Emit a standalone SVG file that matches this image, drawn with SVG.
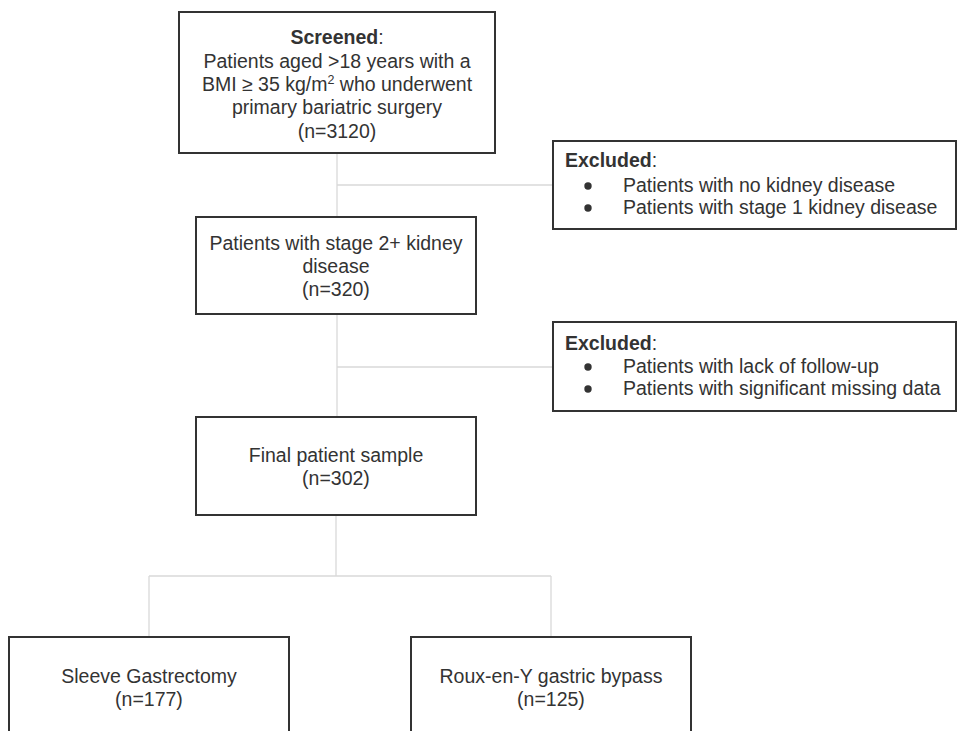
<svg xmlns="http://www.w3.org/2000/svg" width="957" height="731" viewBox="0 0 957 731">
<style>
.box{fill:#fff;stroke:#333;stroke-width:2}
.t{font-family:"Liberation Sans",Arial,sans-serif;font-size:19.5px;fill:#333}
.c{text-anchor:middle}
.b{font-weight:bold}
.ln{stroke:#d9d9d9;stroke-width:1.3;fill:none}
</style>
<rect width="957" height="731" fill="#fff"/>
<g id="connectors">
<line class="ln" x1="337" y1="153" x2="337" y2="217"/>
<line class="ln" x1="337" y1="185" x2="553" y2="185"/>
<line class="ln" x1="337" y1="314" x2="337" y2="417"/>
<line class="ln" x1="337" y1="367" x2="553" y2="367"/>
<line class="ln" x1="336" y1="515" x2="336" y2="576"/>
<line class="ln" x1="149" y1="576" x2="551" y2="576"/>
<line class="ln" x1="149" y1="576" x2="149" y2="637"/>
<line class="ln" x1="551" y1="576" x2="551" y2="637"/>
</g>
<g id="screened">
<rect class="box" x="179" y="12" width="316" height="141"/>
<text class="t c" x="337" y="44"><tspan class="b">Screened</tspan>:</text>
<text class="t c" x="337" y="68">Patients aged &gt;18 years with a</text>
<text class="t c" x="337" y="91">BMI ≥ 35 kg/m<tspan font-size="12.5" dy="-7">2</tspan><tspan dy="7"> who underwent</tspan></text>
<text class="t c" x="337" y="114">primary bariatric surgery</text>
<text class="t c" x="337" y="138">(n=3120)</text>
</g>
<g id="excluded1">
<rect class="box" x="553" y="141" width="403" height="88"/>
<text class="t" x="565" y="167"><tspan class="b">Excluded</tspan>:</text>
<circle cx="588" cy="186" r="3.7" fill="#333"/>
<text class="t" x="623" y="192">Patients with no kidney disease</text>
<circle cx="588" cy="208" r="3.7" fill="#333"/>
<text class="t" x="623" y="214">Patients with stage 1 kidney disease</text>
</g>
<g id="stage2">
<rect class="box" x="196" y="217" width="280" height="97"/>
<text class="t c" x="336" y="250">Patients with stage 2+ kidney</text>
<text class="t c" x="336" y="273">disease</text>
<text class="t c" x="336" y="296">(n=320)</text>
</g>
<g id="excluded2">
<rect class="box" x="553" y="322" width="403" height="89"/>
<text class="t" x="565" y="350"><tspan class="b">Excluded</tspan>:</text>
<circle cx="588" cy="367" r="3.7" fill="#333"/>
<text class="t" x="623" y="373">Patients with lack of follow-up</text>
<circle cx="588" cy="389" r="3.7" fill="#333"/>
<text class="t" x="623" y="395">Patients with significant missing data</text>
</g>
<g id="final">
<rect class="box" x="196" y="417" width="280" height="98"/>
<text class="t c" x="336" y="462">Final patient sample</text>
<text class="t c" x="336" y="485">(n=302)</text>
</g>
<g id="sleeve">
<rect class="box" x="9" y="637" width="280" height="110"/>
<text class="t c" x="149" y="683">Sleeve Gastrectomy</text>
<text class="t c" x="149" y="706">(n=177)</text>
</g>
<g id="rygb">
<rect class="box" x="411" y="637" width="280" height="110"/>
<text class="t c" x="551" y="683">Roux-en-Y gastric bypass</text>
<text class="t c" x="551" y="706">(n=125)</text>
</g>
</svg>
